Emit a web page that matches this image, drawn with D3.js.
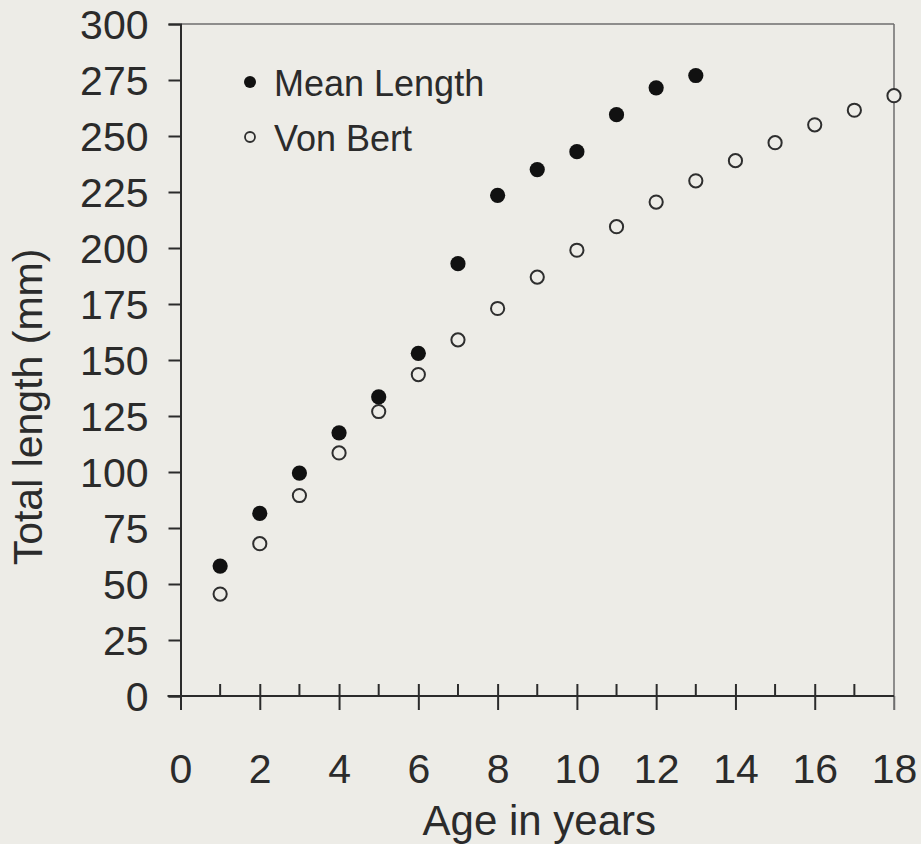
<!DOCTYPE html>
<html>
<head>
<meta charset="utf-8">
<script src="https://cdn.jsdelivr.net/npm/d3@7"></script>
<style>
  html, body { margin: 0; padding: 0; background: #edece7; }
  svg { display: block; }
  text { font-family: Arial, "Liberation Sans", Helvetica, sans-serif; fill: #2b2b2b; }
</style>
</head>
<body>
<svg id="chart" width="921" height="844"></svg>
<script>
// Growth data: observed mean length at age and von Bertalanffy fit
const meanAges = [1, 2, 3, 4, 5, 6, 7, 8, 9, 10, 11, 12, 13];
const meanLength = [58, 81.5, 99.5, 117.5, 133.5, 153, 193, 223.5, 235, 243, 259.5, 271.5, 277];
const vbAges = [1, 2, 3, 4, 5, 6, 7, 8, 9, 10, 11, 12, 13, 14, 15, 16, 17, 18];
const vbLength = [45.5, 68, 89.5, 108.5, 127, 143.5, 159, 173, 187, 199, 209.5, 220.5, 230, 239, 247, 255, 261.5, 268];
const xTicks = [0, 2, 4, 6, 8, 10, 12, 14, 16, 18];
const xMinorTicks = [1, 3, 5, 7, 9, 11, 13, 15, 17];
const yTicks = [0, 25, 50, 75, 100, 125, 150, 175, 200, 225, 250, 275, 300];
const legendItems = ["Mean Length", "Von Bert"];

const svg = d3.select("#chart");
const plotLeft = 180.5, plotRight = 894, plotTop = 24, plotBottom = 696;

const x = d3.scaleLinear().domain([0, 18]).range([plotLeft, plotRight]);
const y = d3.scaleLinear().domain([0, 300]).range([plotBottom, plotTop]);

const ink = "#2b2b2b";
const frameGrey = "#6e6e6e";

// frame: top and right edges lighter
svg.append("line").attr("x1", plotLeft).attr("x2", plotRight).attr("y1", plotTop).attr("y2", plotTop)
  .attr("stroke", frameGrey).attr("stroke-width", 1.5);
svg.append("line").attr("x1", plotRight).attr("x2", plotRight).attr("y1", plotTop).attr("y2", plotBottom + 14)
  .attr("stroke", frameGrey).attr("stroke-width", 1.5);

// y axis
const yAxis = d3.axisLeft(y).tickValues(yTicks).tickSize(12).tickPadding(20);
const gy = svg.append("g").attr("transform", `translate(${plotLeft},0)`).call(yAxis);
gy.select(".domain").attr("stroke", ink).attr("stroke-width", 2);
gy.selectAll(".tick line").attr("stroke", ink).attr("stroke-width", 2);
gy.selectAll(".tick text").attr("font-size", 41).attr("fill", ink)
  .attr("font-family", "Arial, 'Liberation Sans', sans-serif").attr("dy", "0.36em");

// x axis: even ticks cross the axis, odd ticks point up
const xAxis = d3.axisBottom(x).tickValues(xTicks).tickSize(14).tickPadding(73);
const gx = svg.append("g").attr("transform", `translate(0,${plotBottom})`).call(xAxis);
gx.select(".domain").remove();
gx.append("line").attr("x1", plotLeft - 13).attr("x2", plotRight).attr("y1", 0).attr("y2", 0)
  .attr("stroke", ink).attr("stroke-width", 2);
gx.selectAll(".tick line").attr("stroke", ink).attr("stroke-width", 2)
  .attr("y1", d => (d === 0 || d === 18) ? 0 : -12);
gx.selectAll(".tick text").attr("font-size", 41).attr("fill", ink)
  .attr("font-family", "Arial, 'Liberation Sans', sans-serif").attr("dy", "0");
gx.selectAll(".tick").filter(d => d === 18).select("line").attr("stroke", frameGrey).attr("stroke-width", 1.5);

svg.append("g").selectAll("line").data(xMinorTicks).join("line")
  .attr("x1", d => x(d)).attr("x2", d => x(d))
  .attr("y1", plotBottom - 12).attr("y2", plotBottom)
  .attr("stroke", ink).attr("stroke-width", 2);

// axis titles
svg.append("text").attr("x", (plotLeft + plotRight) / 2 + 2).attr("y", 835)
  .attr("text-anchor", "middle").attr("font-size", 42).text("Age in years");
svg.append("text").attr("transform", `translate(42,${407}) rotate(-90)`)
  .attr("text-anchor", "middle").attr("font-size", 41).text("Total length (mm)");

// von Bertalanffy points (open)
svg.append("g").selectAll("circle").data(vbAges).join("circle")
  .attr("cx", d => x(d)).attr("cy", (d, i) => y(vbLength[i])).attr("r", 6.6)
  .attr("fill", "#edece7").attr("stroke", "#2e2e2e").attr("stroke-width", 2);

// mean length points (filled)
svg.append("g").selectAll("circle").data(meanAges).join("circle")
  .attr("cx", d => x(d)).attr("cy", (d, i) => y(meanLength[i])).attr("r", 7.6)
  .attr("fill", "#111");

// legend
const lg = svg.append("g");
lg.append("circle").attr("cx", 250).attr("cy", 82).attr("r", 6).attr("fill", "#111");
lg.append("circle").attr("cx", 250).attr("cy", 137).attr("r", 5)
  .attr("fill", "none").attr("stroke", "#2e2e2e").attr("stroke-width", 1.8);
lg.selectAll("text").data(legendItems).join("text")
  .attr("x", 274).attr("y", (d, i) => 96 + i * 55)
  .attr("font-size", 36).text(d => d);
</script>
</body>
</html>
